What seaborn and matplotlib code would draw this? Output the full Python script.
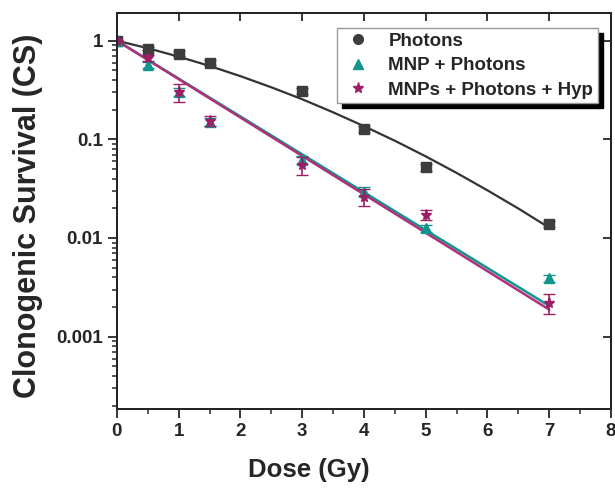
import numpy as np
import pandas as pd
import matplotlib
matplotlib.use("Agg")
import matplotlib.pyplot as plt
from matplotlib.lines import Line2D
import seaborn as sns

sns.set_style("ticks")
plt.rcParams['font.family'] = ['Liberation Sans', 'DejaVu Sans']
plt.rcParams['font.weight'] = 'bold'

# ---- data ----
dose = [0, 0.5, 1, 1.5, 3, 4, 5, 7]
photons = [1.0, 0.83, 0.74, 0.60, 0.31, 0.128, 0.052, 0.0140]
photons_err = [0.02, 0.03, 0.04, 0.03, 0.02, 0.008, 0.004, 0.0010]
mnp = [1.0, 0.57, 0.305, 0.15, 0.062, 0.0295, 0.0125, 0.0039]
mnp_err = [0.02, 0.04, 0.03, 0.015, 0.006, 0.003, 0.001, 0.0003]
hyp = [1.0, 0.67, 0.30, 0.155, 0.055, 0.0262, 0.0172, 0.0022]
hyp_err = [0.02, 0.05, 0.06, 0.018, 0.011, 0.005, 0.002, 0.0005]

fit_dose = [0, 0.5, 1, 1.5, 2, 2.5, 3, 3.5, 4, 4.5, 5, 5.5, 6, 6.5, 7]
fit_photons = [1.0, 0.839, 0.689, 0.555, 0.437, 0.337, 0.255, 0.188, 0.136,
               0.0968, 0.0672, 0.0457, 0.0304, 0.0199, 0.0127]
fit_lin_dose = [0, 7]
fit_mnp = [1.0, 0.00205]
fit_hyp = [1.0, 0.00188]

labels = ["Photons", "MNP + Photons", "MNPs + Photons + Hyp"]
c_ph, c_mnp, c_hyp = "#3d3d3d", "#12948f", "#9c1f66"

fig = plt.figure(figsize=(6.15, 4.88), dpi=100)
ax = fig.add_axes([0.19, 0.162, 0.8035, 0.811])

# fit lines
sns.lineplot(x=fit_dose, y=fit_photons, ax=ax, color="#333333", lw=1.6, legend=False)
sns.lineplot(x=fit_lin_dose, y=fit_mnp, ax=ax, color=c_mnp, lw=1.8, legend=False)
sns.lineplot(x=fit_lin_dose, y=fit_hyp, ax=ax, color="#b0307a", lw=1.8, legend=False)

# data points with error bars
ax.errorbar(dose, photons, yerr=photons_err, fmt='s', color=c_ph, ms=7,
            capsize=4, elinewidth=1.2, zorder=5)
ax.errorbar(dose, mnp, yerr=mnp_err, fmt='^', color=c_mnp, ms=7,
            capsize=4, elinewidth=1.2, zorder=6)
ax.errorbar(dose, hyp, yerr=hyp_err, fmt='*', color=c_hyp, ms=8,
            capsize=4, elinewidth=1.2, zorder=7)

ax.set_yscale('log')
ax.set_xlim(0, 8)
ax.set_ylim(1.85e-4, 1.9)

ax.set_xticks(range(0, 9))
ax.set_xticks(np.arange(0.5, 8, 1), minor=True)
ax.set_yticks([1, 0.1, 0.01, 0.001])
ax.set_yticklabels(["1", "0.1", "0.01", "0.001"])
ax.tick_params(axis='both', which='major', direction='out', length=6.5, width=1.3,
               labelsize=13.5, top=False, right=False)
ax.tick_params(axis='both', which='minor', direction='out', length=3.5, width=1.1,
               top=False, right=False)
for lab in ax.get_xticklabels() + ax.get_yticklabels():
    lab.set_fontweight('bold')

ax.set_xlabel("Dose (Gy)", fontsize=18.5, fontweight='bold', labelpad=12)
ax.xaxis.set_label_coords(0.389, -0.125)
ax.set_ylabel("Clonogenic Survival (CS)", fontsize=22, fontweight='bold')
ax.yaxis.set_label_coords(-0.15, 0.487)

for s in ax.spines.values():
    s.set_visible(True)
    s.set_linewidth(1.4)
    s.set_color('black')

# mirror ticks pointing inward on top and right
axt = ax.twiny()
axt.set_xlim(ax.get_xlim())
axt.set_xticks(range(0, 9))
axt.set_xticklabels([])
axt.tick_params(axis='x', direction='in', length=6, width=1.3)
axr = ax.twinx()
axr.set_yscale('log')
axr.set_ylim(ax.get_ylim())
axr.set_yticks([1, 0.1, 0.01, 0.001])
axr.set_yticklabels([])
axr.yaxis.set_minor_locator(matplotlib.ticker.NullLocator())
axr.tick_params(axis='y', direction='in', length=6, width=1.3)
for a in (axt, axr):
    for s in a.spines.values():
        s.set_linewidth(1.4)

handles = [
    Line2D([], [], marker='o', ls='', color=c_ph, ms=7),
    Line2D([], [], marker='^', ls='', color=c_mnp, ms=7),
    Line2D([], [], marker='*', ls='', color=c_hyp, ms=8),
]
leg = axr.legend(handles, labels, loc='upper right', bbox_to_anchor=(0.9737, 0.962),
                 prop={'weight': 'bold', 'size': 13.5}, frameon=True, fancybox=False,
                 shadow={'color': 'black', 'alpha': 1.0, 'ox': 3.6, 'oy': -3.6},
                 borderpad=0.25, labelspacing=0.38, handletextpad=0.7, handlelength=1.8,
                 edgecolor='#999999', borderaxespad=0.0)
leg.get_frame().set_linewidth(1.0)
leg.get_frame().set_alpha(1.0)

fig.savefig("out.png", dpi=100)
